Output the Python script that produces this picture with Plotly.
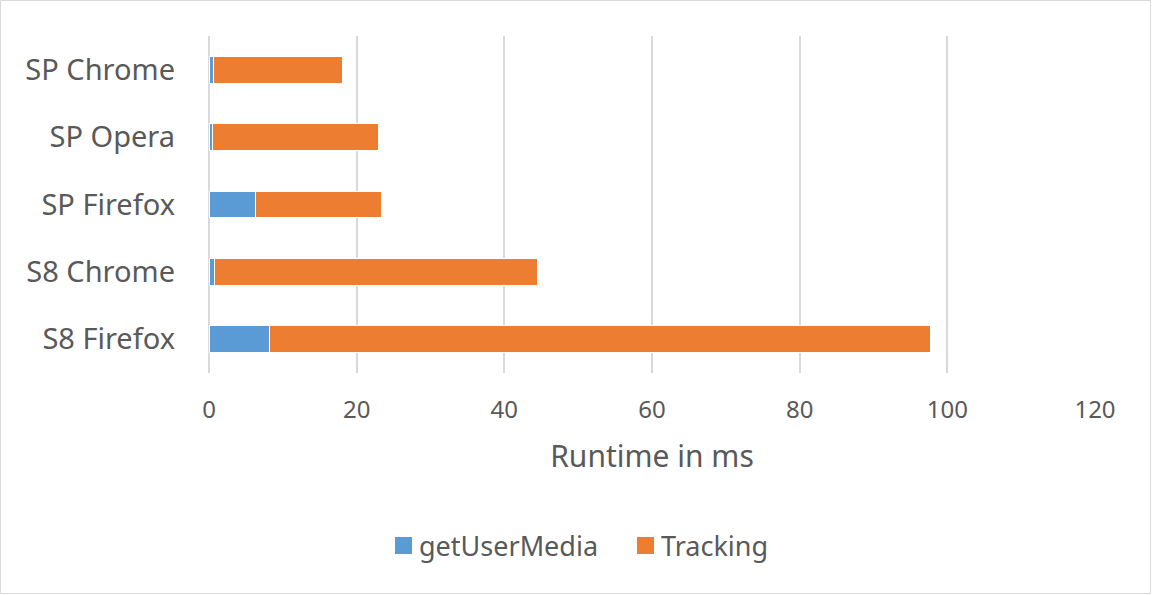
import plotly.graph_objects as go

categories = ["S8 Firefox", "S8 Chrome", "SP Firefox", "SP Opera", "SP Chrome"]
get_user_media = [8.2, 0.7, 6.3, 0.45, 0.6]
tracking = [89.5, 43.8, 17.1, 22.5, 17.5]
series_names = ["getUserMedia", "Tracking"]
series_colors = ["#5B9BD5", "#ED7D31"]
x_ticks = [0, 20, 40, 60, 80, 100, 120]

font_family = "Noto Sans, Open Sans, sans-serif"
grey = "#595959"

W, H = 1152, 595
L, R, T, B = 209, 57, 36, 222
pw, ph = W - L - R, H - T - B


def px_x(p):
    return (p - L) / pw


def px_y(p):
    return (T + ph - p) / ph


fig = go.Figure()
for vals, name, col in zip([get_user_media, tracking], series_names, series_colors):
    fig.add_trace(go.Bar(y=categories, x=vals, name=name, orientation="h", showlegend=False,
                         marker=dict(color=col, line=dict(color="white", width=1))))

# legend drawn as swatches + text
legend_swatch_left = [395, 637]
shapes = [dict(type="rect", xref="paper", yref="paper",
               x0=px_x(0.5), x1=px_x(W - 1.5), y0=px_y(H - 1.5), y1=px_y(0.5),
               line=dict(color="#d9d9d9", width=1), fillcolor="rgba(0,0,0,0)", layer="below")]
annotations = []
for name, col, x0 in zip(series_names, series_colors, legend_swatch_left):
    shapes.append(dict(type="rect", xref="paper", yref="paper",
                       x0=px_x(x0), x1=px_x(x0 + 17), y0=px_y(554), y1=px_y(537),
                       line=dict(width=0), fillcolor=col))
    annotations.append(dict(xref="paper", yref="paper", x=px_x(x0 + 22), y=px_y(545),
                            xanchor="left", yanchor="middle", showarrow=False, text=name,
                            font=dict(size=27, color=grey)))

fig.update_layout(
    width=W, height=H,
    barmode="stack", bargap=0.6,
    margin=dict(l=L, r=R, t=T, b=B),
    plot_bgcolor="white", paper_bgcolor="white",
    font=dict(family=font_family, color=grey),
    showlegend=False,
    xaxis=dict(range=[0, 120], tickvals=x_ticks, showgrid=True, gridcolor="#d9d9d9", gridwidth=1.5,
               zeroline=True, zerolinecolor="#d9d9d9", zerolinewidth=1.5, showline=False,
               tickfont=dict(size=24, color=grey), ticks="", ticklabelstandoff=20,
               title=dict(text="Runtime in ms", font=dict(size=30, color=grey), standoff=21)),
    yaxis=dict(showgrid=False, zeroline=False, showline=False, ticks="",
               tickfont=dict(size=29, color=grey), ticklabelstandoff=33),
    shapes=shapes,
    annotations=annotations,
)

fig.write_html("out.html", post_script="document.body.style.margin='0';",
               config={"displayModeBar": False})
